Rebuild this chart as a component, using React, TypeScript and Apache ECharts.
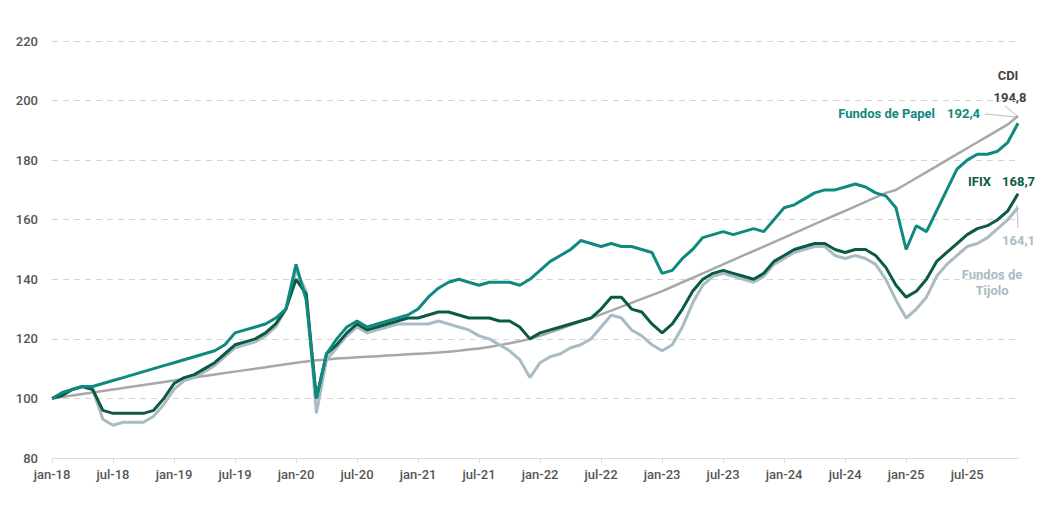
import * as echarts from "echarts"
import { useEffect, useRef } from "react"

const monthNames = ["jan", "fev", "mar", "abr", "mai", "jun", "jul", "ago", "set", "out", "nov", "dez"]
const years = ["18", "19", "20", "21", "22", "23", "24", "25"]
const categories = years.flatMap((y) => monthNames.map((m) => `${m}-${y}`))

const papel = [
  100, 102, 103, 104, 104, 105, 106, 107, 108, 109, 110, 111,
  112, 113, 114, 115, 116, 118, 122, 123, 124, 125, 127, 130,
  145, 133, 100, 115, 120, 124, 126, 124, 125, 126, 127, 128,
  130, 134, 137, 139, 140, 139, 138, 139, 139, 139, 138, 140,
  143, 146, 148, 150, 153, 152, 151, 152, 151, 151, 150, 149,
  142, 143, 147, 150, 154, 155, 156, 155, 156, 157, 156, 160,
  164, 165, 167, 169, 170, 170, 171, 172, 171, 169, 168, 164,
  150, 158, 156, 163, 170, 177, 180, 182, 182, 183, 186, 192.4,
]
const ifix = [
  100, 101, 103, 104, 103, 96, 95, 95, 95, 95, 96, 100,
  105, 107, 108, 110, 112, 115, 118, 119, 120, 122, 125, 130,
  140, 135, 100, 115, 118, 122, 125, 123, 124, 125, 126, 127,
  127, 128, 129, 129, 128, 127, 127, 127, 126, 126, 124, 120,
  122, 123, 124, 125, 126, 127, 130, 134, 134, 130, 129, 125,
  122, 125, 130, 136, 140, 142, 143, 142, 141, 140, 142, 146,
  148, 150, 151, 152, 152, 150, 149, 150, 150, 148, 144, 138,
  134, 136, 140, 146, 149, 152, 155, 157, 158, 160, 163, 168.7,
]
const tijolo = [
  100, 101, 103, 104, 103, 93, 91, 92, 92, 92, 94, 98,
  103, 106, 107, 109, 111, 114, 117, 118, 119, 121, 124, 130,
  143, 136, 95, 113, 117, 121, 124, 122, 123, 124, 125, 125,
  125, 125, 126, 125, 124, 123, 121, 120, 118, 116, 113, 107,
  112, 114, 115, 117, 118, 120, 124, 128, 127, 123, 121, 118,
  116, 118, 124, 132, 138, 141, 142, 141, 140, 139, 141, 145,
  147, 149, 150, 151, 151, 148, 147, 148, 147, 145, 140, 133,
  127, 130, 134, 141, 145, 148, 151, 152, 154, 157, 160, 164.1,
]
const cdi = [
  100, 100.5, 101, 101.5, 102, 102.5, 103, 103.5, 104, 104.5, 105, 105.5,
  106, 106.5, 107, 107.5, 108, 108.5, 109, 109.5, 110, 110.5, 111, 111.5,
  112, 112.4, 112.8, 113.1, 113.4, 113.6, 113.8, 114, 114.2, 114.4, 114.6, 114.8,
  115, 115.2, 115.4, 115.7, 116, 116.4, 116.8, 117.3, 117.9, 118.5, 119.2, 120,
  121, 122.2, 123.4, 124.6, 125.8, 127, 128.2, 129.5, 130.8, 132.1, 133.4, 134.7,
  136, 137.5, 139, 140.5, 142, 143.5, 145, 146.5, 148, 149.5, 151, 152.5,
  154, 155.5, 157, 158.5, 160, 161.5, 163, 164.5, 166, 167.5, 169, 170,
  172, 174, 176, 178, 180, 182, 184, 186, 188, 190, 192, 194.8,
]

const C_PAPEL = "#0e8a80"
const C_IFIX = "#0b5a45"
const C_TIJOLO = "#a9bcc4"
const C_CDI = "#a8a8a8"
const FONT = "Roboto"

export default function App() {
  const ref = useRef<HTMLDivElement>(null)

  useEffect(() => {
    if (!ref.current) return
    const chart = echarts.init(ref.current, undefined, { renderer: "svg" })
    const line = (name: string, data: number[], color: string, width: number, z: number) => ({
      name,
      type: "line",
      data,
      symbol: "none",
      z,
      lineStyle: { color, width },
      itemStyle: { color },
    })
    // page coords minus the 8px body margin
    const txt = (x: number, y: number, text: string, fill: string, align = "left") => ({
      type: "text",
      x: x - 8,
      y: y - 8,
      style: { text, fill, font: `bold 13px ${FONT}`, textAlign: align, textVerticalAlign: "middle" },
    })
    const seg = (x1: number, y1: number, x2: number, y2: number) => ({
      type: "line",
      shape: { x1: x1 - 8, y1: y1 - 8, x2: x2 - 8, y2: y2 - 8 },
      style: { stroke: "#bbb", lineWidth: 1 },
    })
    chart.setOption({
      animation: false,
      grid: { left: 44, right: 35, top: 33, bottom: 61 },
      xAxis: {
        type: "category",
        data: categories,
        boundaryGap: false,
        axisLine: { lineStyle: { color: "#dddddd" } },
        axisTick: { interval: 5, lineStyle: { color: "#dddddd" }, length: 5 },
        axisLabel: { interval: 5, color: "#555", fontFamily: FONT, fontWeight: 500, fontSize: 13, margin: 10 },
      },
      yAxis: {
        type: "value",
        min: 80,
        max: 220,
        interval: 20,
        axisLabel: { color: "#555", fontFamily: FONT, fontWeight: 500, fontSize: 13, margin: 14 },
        splitLine: { lineStyle: { color: "#d5d5d5", type: [6, 5] } },
      },
      series: [
        line("CDI", cdi, C_CDI, 2.5, 1),
        line("Fundos de Tijolo", tijolo, C_TIJOLO, 3, 2),
        line("IFIX", ifix, C_IFIX, 3, 3),
        line("Fundos de Papel", papel, C_PAPEL, 3, 4),
      ],
      graphic: [
        txt(1008, 75, "CDI", "#444", "center"),
        txt(1010, 97, "194,8", "#444", "center"),
        txt(935, 113, "Fundos de Papel", C_PAPEL, "right"),
        txt(947, 113, "192,4", C_PAPEL),
        seg(985, 114, 1016, 117),
        seg(1005, 106, 1017, 116),
        txt(968, 181, "IFIX", C_IFIX),
        txt(1002, 181, "168,7", C_IFIX),
        seg(1017, 205, 1018, 228),
        txt(1002, 240, "164,1", C_TIJOLO),
        txt(992, 274, "Fundos de", C_TIJOLO, "center"),
        txt(992, 290, "Tijolo", C_TIJOLO, "center"),
      ],
    })
    return () => chart.dispose()
  }, [])

  return <div ref={ref} style={{ width: 1045, height: 511 }} />
}
